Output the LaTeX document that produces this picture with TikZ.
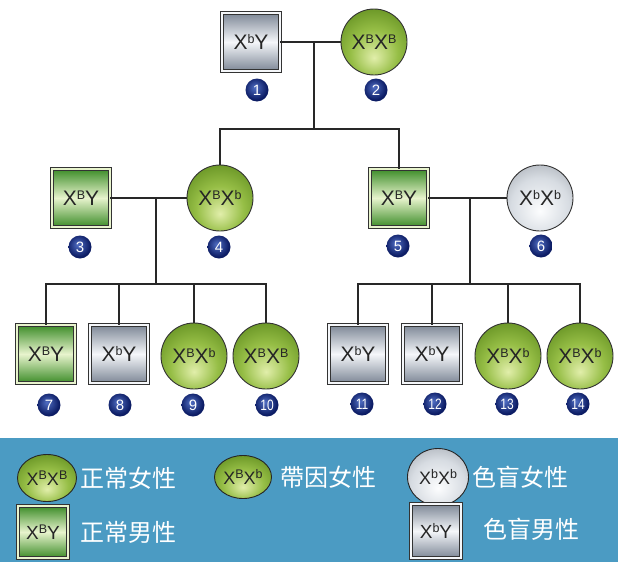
\documentclass[tikz,border=0pt]{standalone}
\usepackage{fontspec}
\setmainfont{Liberation Sans}
\newfontfamily\cjk{Noto Sans CJK TC}
\usetikzlibrary{shapes.geometric}
\definecolor{gDark}{RGB}{60,140,40}
\definecolor{gPale}{RGB}{232,244,205}
\definecolor{gyDark}{RGB}{125,135,150}
\definecolor{gyPale}{RGB}{245,247,250}
\definecolor{ballHi}{RGB}{225,238,170}
\definecolor{ballMid}{RGB}{150,190,70}
\definecolor{ballDark}{RGB}{95,140,30}
\definecolor{ballEdge}{RGB}{55,85,15}
\definecolor{grHi}{RGB}{252,253,254}
\definecolor{grMid}{RGB}{215,220,226}
\definecolor{grEdge}{RGB}{140,146,155}
\definecolor{nvHi}{RGB}{80,110,195}
\definecolor{nvDark}{RGB}{12,28,100}
\definecolor{legendblue}{RGB}{75,155,195}
\definecolor{linec}{RGB}{40,40,40}
\pgfdeclareradialshading{greenball}{\pgfpoint{0bp}{-12bp}}{color(0bp)=(ballHi); color(18bp)=(ballMid); color(36bp)=(ballDark); color(50bp)=(ballEdge); color(65bp)=(ballEdge)}
\pgfdeclareradialshading{grayball}{\pgfpoint{0bp}{-10bp}}{color(0bp)=(grHi); color(22bp)=(grMid); color(45bp)=(grEdge); color(65bp)=(grEdge)}
\pgfdeclareradialshading{navyball}{\pgfpoint{-5bp}{6bp}}{color(0bp)=(nvHi); color(25bp)=(nvDark); color(65bp)=(nvDark)}
\newcommand\gsup[1]{\raisebox{6.5pt}{\fontsize{12.5}{12.5}\selectfont #1}}
\newcommand\gx[1]{X\gsup{#1}}
\begin{document}
\begin{tikzpicture}[x=1pt,y=-1pt,
  conn/.style={draw=linec, line width=1.3pt},
  gene/.style={font=\fontsize{21}{21}\selectfont, text=black!85},
  sqbase/.style={rectangle, minimum size=58pt, inner sep=0pt, draw=black!80, line width=0.8pt, double distance=2pt, gene},
  malegreen/.style={sqbase, double=gPale, top color=gDark, bottom color=gDark, middle color=gPale},
  malegray/.style={sqbase, double=gyPale, top color=gyDark, bottom color=gyDark, middle color=gyPale},
  femgreen/.style={circle, minimum size=66pt, inner sep=0pt, draw=black!80, line width=0.9pt, shading=greenball, shade, gene},
  femgray/.style={circle, minimum size=66pt, inner sep=0pt, draw=black!80, line width=0.9pt, shading=grayball, shade, gene},
  badge/.style={circle, minimum size=23pt, inner sep=0pt, shading=navyball, shade, text=white, font=\fontsize{15}{15}\selectfont},
  legtext/.style={anchor=west, text=white, font=\cjk\fontsize{24}{24}\selectfont, inner sep=0pt},
  legel/.style={ellipse, inner sep=0pt, draw=black!85, line width=0.9pt, shading=greenball, shade, gene, font=\fontsize{18}{18}\selectfont}
]
\useasboundingbox (0,0) rectangle (618,562);
\fill[white] (0,0) rectangle (618,438);
\fill[legendblue] (0,438) rectangle (618,562);

% generation I
\node[malegray] (p1) at (251,42) {\gx{b}Y};
\node[femgreen] (p2) at (374,42) {\gx{B}\gx{B}};
\node[badge] (b1) at (257,90) {1};
\node[badge] (b2) at (376,90) {2};

% generation II
\node[malegreen] (p3) at (81,198) {\gx{B}Y};
\node[femgreen] (p4) at (220,198) {\gx{B}\gx{b}};
\node[malegreen] (p5) at (399,198) {\gx{B}Y};
\node[femgray] (p6) at (540,198) {\gx{b}\gx{b}};
\node[badge] (b3) at (80,247) {3};
\node[badge] (b4) at (219,247) {4};
\node[badge] (b5) at (398,246) {5};
\node[badge] (b6) at (541,246) {6};

% generation III
\node[malegreen] (p7) at (46,354) {\gx{B}Y};
\node[malegray] (p8) at (119,354) {\gx{b}Y};
\node[femgreen] (p9) at (194,356) {\gx{B}\gx{b}};
\node[femgreen] (p10) at (266,356) {\gx{B}\gx{B}};
\node[malegray] (p11) at (358,354) {\gx{b}Y};
\node[malegray] (p12) at (432,354) {\gx{b}Y};
\node[femgreen] (p13) at (508,356) {\gx{B}\gx{b}};
\node[femgreen] (p14) at (580,356) {\gx{B}\gx{b}};
\node[badge] (b7) at (49,405) {7};
\node[badge] (b8) at (120,405) {8};
\node[badge] (b9) at (193,405) {9};
\node[badge] (b10) at (267,405) {\scalebox{0.8}[1]{10}};
\node[badge] (b11) at (362,404) {\scalebox{0.8}[1]{11}};
\node[badge] (b12) at (435,404) {\scalebox{0.8}[1]{12}};
\node[badge] (b13) at (507,404) {\scalebox{0.8}[1]{13}};
\node[badge] (b14) at (578,404) {\scalebox{0.8}[1]{14}};

% connectors
\coordinate (m12) at (314,42);
\coordinate (s1) at (314,129);
\draw[conn] (p1) -- (p2);
\draw[conn] (m12) -- (s1);
\draw[conn] (p4.north) -- (p4.north |- s1) -- (p5.north |- s1) -- (p5.north);

\coordinate (m34) at (156,198);
\coordinate (s2) at (156,284);
\draw[conn] (p3) -- (p4);
\draw[conn] (m34) -- (s2);
\draw[conn] (p7.north) -- (p7.north |- s2) -- (p10.north |- s2) -- (p10.north);
\draw[conn] (p8.north) -- (p8.north |- s2);
\draw[conn] (p9.north) -- (p9.north |- s2);

\coordinate (m56) at (470,198);
\coordinate (s3) at (470,284);
\draw[conn] (p5) -- (p6);
\draw[conn] (m56) -- (s3);
\draw[conn] (p11.north) -- (p11.north |- s3) -- (p14.north |- s3) -- (p14.north);
\draw[conn] (p12.north) -- (p12.north |- s3);
\draw[conn] (p13.north) -- (p13.north |- s3);

% legend
\node[legel, minimum width=59pt, minimum height=47pt] (l1) at (47,478) {\gx{B}\gx{B}};
\node[legtext] (t1) at (80,478) {正常女性};
\node[legel, minimum width=57pt, minimum height=43pt] (l2) at (243,477) {\gx{B}\gx{b}};
\node[legtext] (t2) at (280,477) {帶因女性};
\node[legel, shading=grayball, minimum width=61pt, minimum height=57pt] (l3) at (438,477) {\gx{b}\gx{b}};
\node[legtext] (t3) at (472,477) {色盲女性};
\node[malegreen, minimum width=50pt, minimum height=52pt, font=\fontsize{19}{19}\selectfont] (l4) at (43,532) {\gx{B}Y};
\node[legtext] (t4) at (80,532) {正常男性};
\node[malegray, minimum width=50pt, minimum height=54pt, font=\fontsize{19}{19}\selectfont] (l5) at (436,531) {\gx{b}Y};
\node[legtext] (t5) at (483,529) {色盲男性};
\end{tikzpicture}
\end{document}
